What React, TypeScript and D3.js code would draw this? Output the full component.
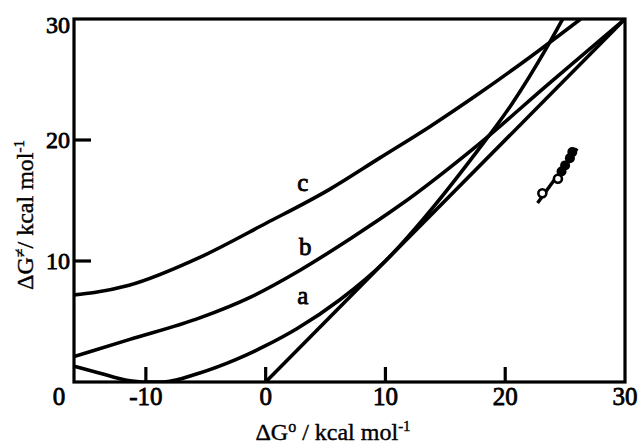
import React from "react";
import * as d3 from "d3";

// curve data (ΔG° , ΔG‡ in kcal/mol)
const curveA: [number, number][] = [
  [-16, 1.3], [-13.9, 0.75], [-11.6, 0.15], [-10, 0], [-8.6, 0],
  [-5.5, 0.75], [-2.5, 1.85], [0, 3.0], [2.6, 4.4], [6.2, 6.8],
  [10, 10.0], [13.1, 13.4], [17.6, 19.0], [20.5, 22.9], [23.5, 27.7], [24.8, 30],
];
const curveB: [number, number][] = [
  [-16, 2.1], [-11.4, 3.5], [-5.5, 5.3], [-1.3, 7.0], [2.8, 9.2],
  [7.0, 11.8], [11.2, 14.6], [17.6, 19.5], [23.7, 24.7], [30, 30],
];
const curveC: [number, number][] = [
  [-16, 7.2], [-14.3, 7.4], [-11.4, 8.0], [-5.5, 10.3], [0, 13.1],
  [5.3, 15.9], [9.5, 18.5], [13.7, 21.1], [17.9, 23.9], [22.0, 26.8], [26.3, 30],
];
const diagonal: [number, number][] = [[0, 0], [30, 30]];

// experimental points and their fit
const fitLine: [number, number][] = [[22.7, 14.8], [26.0, 19.3]];
const openPts: [number, number][] = [[23.1, 15.6], [24.4, 16.8]];
const filledPts: [number, number][] = [[24.7, 17.4], [25.0, 17.9], [25.4, 18.5], [25.6, 19.0]];

const xTicks = [-10, 0, 10, 20];
const yTicks = [10, 20];
const xTickLabels = [
  { v: -16, t: "0" }, { v: -10, t: "-10" }, { v: 0, t: "0" },
  { v: 10, t: "10" }, { v: 20, t: "20" }, { v: 30, t: "30" },
];
const yTickLabels = [{ v: 10, t: "10" }, { v: 20, t: "20" }, { v: 30, t: "30" }];
const curveLabels = [
  { t: "a", x: 3.1, y: 7.0 },
  { t: "b", x: 3.3, y: 11.1 },
  { t: "c", x: 3.1, y: 16.4 },
];

const W = 642, H = 448;
const margin = { top: 19, right: 17, bottom: 66, left: 74 };

export default function App() {
  const x = d3.scaleLinear().domain([-16, 30]).range([margin.left, W - margin.right]);
  const y = d3.scaleLinear().domain([0, 30]).range([H - margin.bottom, margin.top]);
  const line = d3.line<[number, number]>().x((d) => x(d[0])).y((d) => y(d[1])).curve(d3.curveMonotoneX);
  const straight = d3.line<[number, number]>().x((d) => x(d[0])).y((d) => y(d[1]));
  const font = "'Liberation Serif', 'Times New Roman', serif";
  const ink = { stroke: "#000", strokeWidth: 0.8 };

  return (
    <svg width={W} height={H} style={{ position: "absolute", left: 0, top: 0, background: "#fff" }} fontFamily={font}>
      <defs>
        <clipPath id="plot">
          <rect x={x(-16)} y={y(30)} width={x(30) - x(-16)} height={y(0) - y(30)} />
        </clipPath>
      </defs>
      <g clipPath="url(#plot)" fill="none" stroke="#000" strokeWidth={3.6} strokeLinejoin="round">
        <path d={line(curveA) || ""} />
        <path d={line(curveB) || ""} />
        <path d={line(curveC) || ""} />
        <path d={straight(diagonal) || ""} />
      </g>
      <rect x={x(-16)} y={y(30)} width={x(30) - x(-16)} height={y(0) - y(30)} fill="none" stroke="#000" strokeWidth={3.2} />
      {xTicks.map((v) => (
        <line key={v} x1={x(v)} x2={x(v)} y1={y(0)} y2={y(0) - 15} stroke="#000" strokeWidth={3.2} />
      ))}
      {yTicks.map((v) => (
        <line key={v} x1={x(-16)} x2={x(-16) + 17} y1={y(v)} y2={y(v)} stroke="#000" strokeWidth={3.2} />
      ))}
      <g {...ink}>
        {xTickLabels.map((d, i) => (
          <text key={i} x={d.v === -16 ? x(d.v) - 15 : x(d.v)} y={405} textAnchor="middle" fontSize={25}>{d.t}</text>
        ))}
        {yTickLabels.map((d) => (
          <text key={d.v} x={70} y={y(d.v) + (d.v === 30 ? 14 : 8)} textAnchor="end" fontSize={24}>{d.t}</text>
        ))}
        {curveLabels.map((d) => (
          <text key={d.t} x={x(d.x)} y={y(d.y) + 7} textAnchor="middle" fontSize={25}>{d.t}</text>
        ))}
      </g>
      <path d={straight(fitLine) || ""} stroke="#000" strokeWidth={3.4} fill="none" />
      {openPts.map((d, i) => (
        <circle key={"o" + i} cx={x(d[0])} cy={y(d[1])} r={4} fill="#fff" stroke="#000" strokeWidth={2.6} />
      ))}
      {filledPts.map((d, i) => (
        <circle key={"f" + i} cx={x(d[0])} cy={y(d[1])} r={5} fill="#000" />
      ))}
      <g stroke="#000" strokeWidth={0.4}>
        <text x={333} y={440} textAnchor="middle" fontSize={24}>
          ΔG<tspan dy={-8} fontSize={16}>o</tspan><tspan dy={8}> / kcal mol</tspan><tspan dy={-9} fontSize={15}>-1</tspan>
        </text>
        <text transform={`translate(33,${215}) rotate(-90)`} textAnchor="middle" fontSize={24}>
          ΔG<tspan dy={-8} fontSize={16}>≠</tspan><tspan dy={8}>/ kcal mol</tspan><tspan dy={-9} fontSize={15}>-1</tspan>
        </text>
      </g>
    </svg>
  );
}
